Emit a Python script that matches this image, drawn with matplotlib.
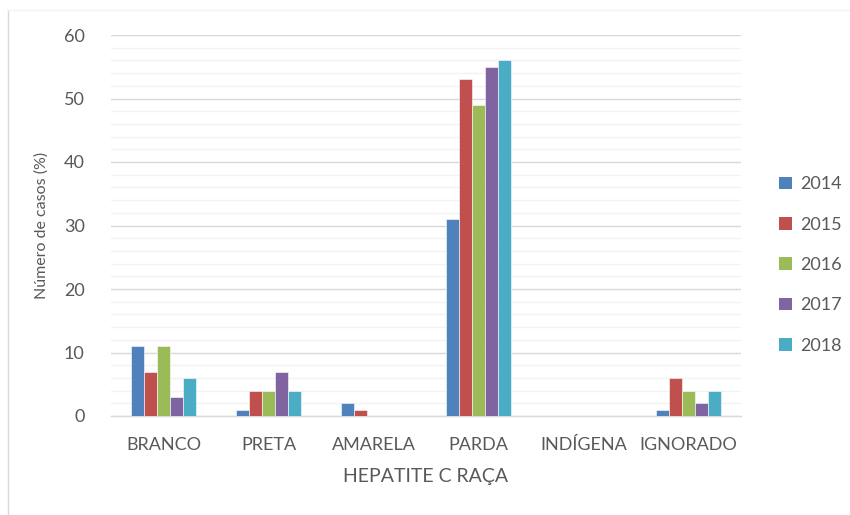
import matplotlib
matplotlib.use("Agg")
import matplotlib.pyplot as plt
import numpy as np
from matplotlib.patches import Patch
from matplotlib.lines import Line2D

plt.rcParams['font.family'] = ['Lato', 'DejaVu Sans']

categories = ["BRANCO", "PRETA", "AMARELA", "PARDA", "INDÍGENA", "IGNORADO"]
years = ["2014", "2015", "2016", "2017", "2018"]
v2014 = [11, 1, 2, 31, 0, 1]
v2015 = [7, 4, 1, 53, 0, 6]
v2016 = [11, 4, 0, 49, 0, 4]
v2017 = [3, 7, 0, 55, 0, 2]
v2018 = [6, 4, 0, 56, 0, 4]
series = [v2014, v2015, v2016, v2017, v2018]
colors = ["#4F81BD", "#C0504D", "#9BBB59", "#8064A2", "#4BACC6"]

text_color = "#595959"

fig = plt.figure(figsize=(8.5, 5.15), dpi=100)
ax = fig.add_axes([111 / 850, 1 - 416 / 515, 630 / 850, 381 / 515])

x = np.arange(len(categories))
bw = 0.125
for i, (vals, c) in enumerate(zip(series, colors)):
    ax.bar(x + (i - 2) * bw, vals, width=bw, color=c, edgecolor="white",
           linewidth=0.4, zorder=3)

ax.set_xlim(-0.5, len(categories) - 0.5)
ax.set_ylim(0, 60)
ax.set_yticks(np.arange(0, 61, 10))
ax.set_yticks(np.arange(0, 61, 2), minor=True)
ax.grid(axis="y", which="major", color="#D9D9D9", linewidth=1.0, zorder=0)
ax.grid(axis="y", which="minor", color="#F2F2F2", linewidth=1.0, zorder=0)
ax.set_axisbelow(True)

for s in ["top", "right", "left"]:
    ax.spines[s].set_visible(False)
ax.spines["bottom"].set_color("#D9D9D9")
ax.spines["bottom"].set_linewidth(1.0)

ax.set_xticks(x)
ax.set_xticklabels(categories)
ax.tick_params(axis="both", which="both", length=0, colors=text_color,
               labelsize=13)
ax.tick_params(axis="x", pad=15)
ax.tick_params(axis="y", pad=19)

ax.set_xlabel("HEPATITE C RAÇA", fontsize=14, color=text_color, labelpad=11)
ax.set_ylabel("Número de casos (%)", fontsize=11.5, color=text_color,
              labelpad=11)

handles = [Patch(facecolor=c, edgecolor="none") for c in colors]
fig.legend(handles, years, loc="center left",
           bbox_to_anchor=(763 / 850, 1 - 265 / 515), frameon=False,
           fontsize=13, labelcolor=text_color, handlelength=0.7,
           handleheight=0.7, handletextpad=0.45, labelspacing=1.35)

# outer chart frame
fig.add_artist(Line2D([8 / 850, 8 / 850], [0, 1 - 10 / 515],
                      transform=fig.transFigure, color="#D9D9D9", lw=1))
fig.add_artist(Line2D([8 / 850, 1], [1 - 10 / 515, 1 - 10 / 515],
                      transform=fig.transFigure, color="#F2F2F2", lw=1))

fig.savefig("out.png", dpi=100)
